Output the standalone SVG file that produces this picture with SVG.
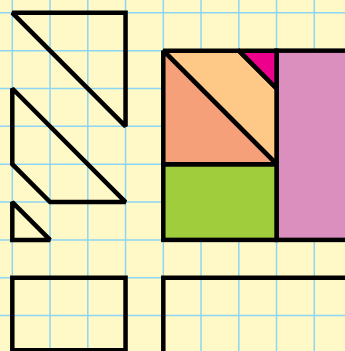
<svg xmlns="http://www.w3.org/2000/svg" width="345" height="351" viewBox="0 0 345 351">
<style>
.grid line{stroke:#8cd5f4;stroke-width:1.5}
.shape{stroke:#000;stroke-width:4.5;stroke-linejoin:miter;stroke-miterlimit:2}
.open{fill:none}
</style>
<rect width="345" height="351" fill="#fff9c7"/>
<g class="grid">
<line x1="12.3" y1="0" x2="12.3" y2="351"/>
<line x1="50.05" y1="0" x2="50.05" y2="351"/>
<line x1="87.8" y1="0" x2="87.8" y2="351"/>
<line x1="125.55" y1="0" x2="125.55" y2="351"/>
<line x1="163.3" y1="0" x2="163.3" y2="351"/>
<line x1="201.05" y1="0" x2="201.05" y2="351"/>
<line x1="238.8" y1="0" x2="238.8" y2="351"/>
<line x1="276.55" y1="0" x2="276.55" y2="351"/>
<line x1="314.3" y1="0" x2="314.3" y2="351"/>
<line x1="0" y1="12.8" x2="345" y2="12.8"/>
<line x1="0" y1="50.65" x2="345" y2="50.65"/>
<line x1="0" y1="88.5" x2="345" y2="88.5"/>
<line x1="0" y1="126.35" x2="345" y2="126.35"/>
<line x1="0" y1="164.2" x2="345" y2="164.2"/>
<line x1="0" y1="202.05" x2="345" y2="202.05"/>
<line x1="0" y1="239.9" x2="345" y2="239.9"/>
<line x1="0" y1="277.75" x2="345" y2="277.75"/>
<line x1="0" y1="315.6" x2="345" y2="315.6"/>
</g>
<g id="left-triangle">
<polygon class="shape open" points="12.3,12.8 125.55,12.8 125.55,126.35"/>
</g>
<g id="left-trapezoid">
<polygon class="shape open" points="12.3,88.5 125.55,202.05 50.05,202.05 12.3,164.2"/>
</g>
<g id="small-triangle">
<polygon class="shape open" points="12.3,202.05 12.3,239.9 50.05,239.9"/>
</g>
<g id="left-rect">
<rect class="shape open" x="12.3" y="277.75" width="113.25" height="72.5"/>
</g>
<g id="pink-rect">
<rect class="shape" fill="#db8fbe" x="276.55" y="50.65" width="80" height="189.25"/>
</g>
<g id="green-rect">
<rect class="shape" fill="#a0cd3c" x="163.3" y="164.2" width="113.25" height="75.7"/>
</g>
<g id="peach-piece">
<polygon class="shape" fill="#fec986" points="163.3,50.65 238.8,50.65 276.55,88.5 276.55,164.2"/>
</g>
<g id="magenta-triangle">
<polygon class="shape" fill="#ec008c" points="238.8,50.65 276.55,50.65 276.55,88.5"/>
</g>
<g id="salmon-triangle">
<polygon class="shape" fill="#f6a07a" points="163.3,50.65 276.55,164.2 163.3,164.2"/>
</g>
<g id="right-rect">
<rect class="shape open" x="163.3" y="277.75" width="200" height="75.7"/>
</g>
</svg>
